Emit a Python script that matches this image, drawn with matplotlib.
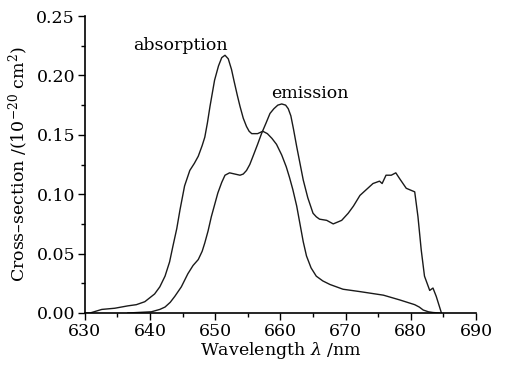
import matplotlib
matplotlib.use('Agg')
import matplotlib.pyplot as plt
from matplotlib.ticker import MultipleLocator
import numpy as np

# values
abs_wl = [630.0, 630.8, 632.6, 634.6, 636.6, 637.9, 639.2, 640.7, 641.5, 642.3, 643.0,
          643.5, 644.1, 644.6, 645.3, 646.1, 646.8, 647.4, 648.0, 648.4, 648.8, 649.2,
          649.9, 650.5, 651.0, 651.5, 652.0, 652.5, 652.9, 653.4, 653.8, 654.3, 654.8,
          655.2, 655.6, 656.5, 657.3, 658.0, 658.7, 659.4, 660.2, 660.9, 661.4, 661.9,
          662.5, 663.0, 663.5, 664.0, 664.7, 665.5, 666.5, 667.6, 669.6, 672.2, 675.8,
          678.3, 680.6, 681.3, 681.9, 682.7, 683.4, 684.4]
abs_cs = [0.0, 0.0, 0.003, 0.004, 0.006, 0.007, 0.0095, 0.016, 0.022, 0.031, 0.043,
          0.056, 0.071, 0.087, 0.107, 0.120, 0.126, 0.132, 0.141, 0.148, 0.160, 0.174,
          0.196, 0.208, 0.215, 0.217, 0.214, 0.205, 0.195, 0.183, 0.174, 0.164, 0.157,
          0.153, 0.151, 0.151, 0.153, 0.151, 0.147, 0.142, 0.133, 0.123, 0.114, 0.104,
          0.090, 0.075, 0.060, 0.048, 0.038, 0.031, 0.027, 0.024, 0.020, 0.018, 0.015,
          0.011, 0.007, 0.005, 0.0025, 0.001, 0.0004, 0.0]

em_wl = [636.6, 640.2, 641.5, 642.3, 643.1, 643.8, 644.8, 645.8, 646.6, 647.4, 648.0,
         648.4, 648.9, 649.4, 650.4, 651.0, 651.5, 652.2, 653.0, 653.8, 654.3, 654.8,
         655.3, 655.8, 656.5, 657.1, 657.8, 658.4, 659.0, 659.6, 660.2, 660.8, 661.2,
         661.6, 662.0, 662.5, 663.0, 663.5, 664.2, 665.0, 665.5, 666.0, 667.1, 668.1,
         669.4, 670.4, 671.2, 672.2, 673.2, 674.2, 675.2, 675.6, 676.2, 677.0, 677.7,
         678.3, 679.3, 680.6, 681.1, 681.6, 682.1, 682.9, 683.4, 683.9, 684.7]
em_cs = [0.0, 0.001, 0.003, 0.005, 0.009, 0.014, 0.022, 0.033, 0.040, 0.045, 0.052,
         0.059, 0.069, 0.081, 0.101, 0.110, 0.116, 0.118, 0.117, 0.116, 0.117, 0.120,
         0.125, 0.132, 0.142, 0.151, 0.160, 0.168, 0.172, 0.175, 0.176, 0.175, 0.172,
         0.166, 0.155, 0.140, 0.126, 0.112, 0.097, 0.084, 0.081, 0.079, 0.078, 0.075,
         0.078, 0.084, 0.090, 0.099, 0.104, 0.109, 0.111, 0.109, 0.116, 0.116, 0.118,
         0.113, 0.105, 0.102, 0.081, 0.053, 0.031, 0.019, 0.021, 0.014, 0.0]

plt.rcParams['font.family'] = ['DejaVu Serif']
plt.rcParams['mathtext.fontset'] = 'dejavuserif'

fig = plt.figure(figsize=(5.08, 3.65), dpi=100)
ax = fig.add_axes([0.167, 0.1425, 0.77, 0.8135])

ax.plot(abs_wl, abs_cs, color='#1a1a1a', lw=1.0)
ax.plot(em_wl, em_cs, color='#1a1a1a', lw=1.0)

ax.set_xlim(630, 690)
ax.set_ylim(0, 0.25)
ax.xaxis.set_major_locator(MultipleLocator(10))
ax.xaxis.set_minor_locator(MultipleLocator(5))
ax.yaxis.set_major_locator(MultipleLocator(0.05))
ax.yaxis.set_minor_locator(MultipleLocator(0.025))
ax.yaxis.set_major_formatter(plt.FormatStrFormatter('%.2f'))

for s in ['top', 'right']:
    ax.spines[s].set_visible(False)
for s in ['left', 'bottom']:
    ax.spines[s].set_linewidth(1.2)
ax.tick_params(which='major', direction='out', length=5, width=1.0, labelsize=12.5, pad=2)
ax.tick_params(which='minor', direction='out', length=3, width=1.0)

ax.set_xlabel('Wavelength $\\mathit{\\lambda}$ /nm', fontsize=12.5, labelpad=0)
ax.set_ylabel('Cross\u2013section /(10$^{\\mathregular{-20}}$ cm$^{\\mathregular{2}}$)',
              fontsize=12.5, labelpad=4)

ax.text(644.7, 0.2255, 'absorption', fontsize=12.5, ha='center', va='center')
ax.text(664.5, 0.185, 'emission', fontsize=12.5, ha='center', va='center')

fig.savefig('out.png', dpi=100)
